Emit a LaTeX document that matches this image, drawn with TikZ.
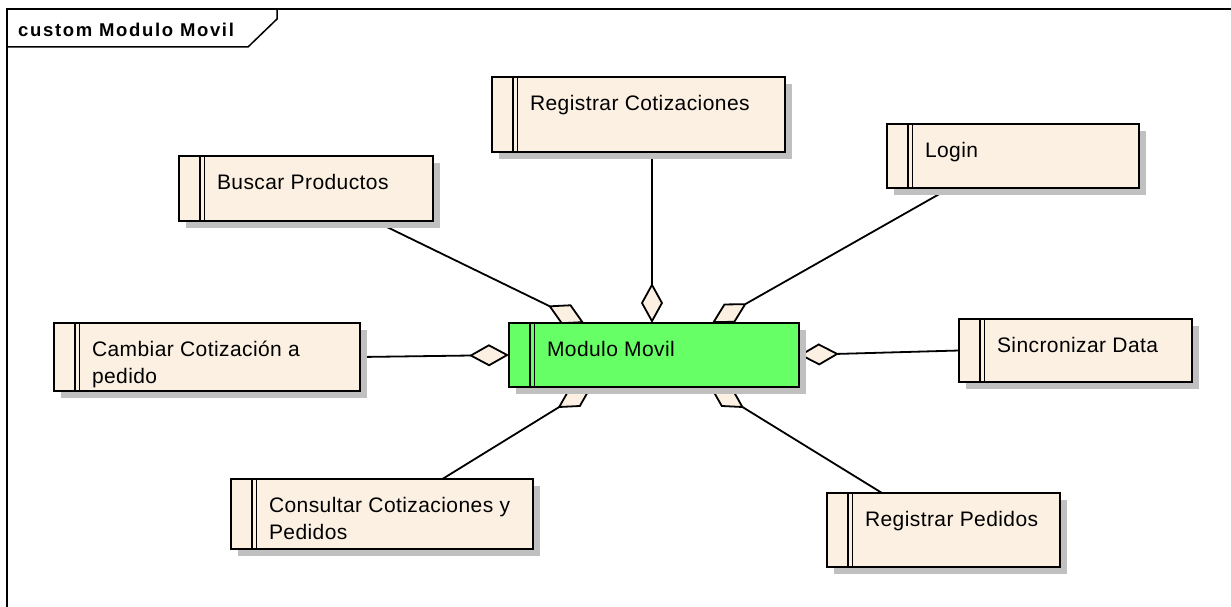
\documentclass[tikz,border=0pt]{standalone}
\usepackage{fontspec}
\setmainfont{Liberation Sans}
\usetikzlibrary{arrows.meta,calc,shadows}
\definecolor{cream}{RGB}{251,240,226}
\definecolor{boxgreen}{RGB}{102,255,102}
\definecolor{shade}{RGB}{192,192,192}
\pgfdeclarelayer{bg}
\pgfsetlayers{bg,main}
\newcommand\uctext[3]{\parbox[t][#2pt][t]{#1pt}{\raggedright\leftskip=38pt\relax\rule{0pt}{33.5pt}#3}}
\tikzset{
  ubox/.style={draw, line width=1.9pt, inner sep=0pt, outer sep=0pt, anchor=north west,
    font=\fontsize{21}{27}\selectfont\addfontfeature{LetterSpace=2},
    drop shadow={shadow xshift=7pt, shadow yshift=-7pt, fill=shade, opacity=1}},
  agg/.style={line width=1.8pt, -{Diamond[length=40pt,width=22pt,fill=cream,line width=1.8pt]}},
  bar/.style={line width=1.5pt},
  frame/.style={line width=1.5pt}
}
\begin{document}
\begin{tikzpicture}[x=1pt,y=-1pt]
\useasboundingbox (0,0) rectangle (1231,607);
% frame
\draw[frame] (7,607) -- (7,9) -- (1231,9);
\draw[frame] (7,47) -- (248,47) -- (277,19) -- (277,9);
\node[anchor=base west, inner sep=0pt, font=\bfseries\fontsize{18.5}{22}\selectfont\addfontfeature{LetterSpace=9}] (title) at (18,36.5) {custom Modulo Movil};
% boxes
\node[ubox, fill=cream] (rc) at (492,77) {\uctext{293}{75}{Registrar Cotizaciones}};
\node[ubox, fill=cream] (lg) at (887,124) {\uctext{252}{64}{Login}};
\node[ubox, fill=cream] (bp) at (179,156) {\uctext{254}{65}{Buscar Productos}};
\node[ubox, fill=cream] (cc) at (54,323) {\uctext{306}{68}{Cambiar Cotización a\\pedido}};
\node[ubox, fill=boxgreen] (mm) at (509,323) {\uctext{290}{64}{Modulo Movil}};
\node[ubox, fill=cream] (sd) at (959,319) {\uctext{233}{63}{Sincronizar Data}};
\node[ubox, fill=cream] (cq) at (231,479) {\uctext{302}{70}{Consultar Cotizaciones y\\Pedidos}};
\node[ubox, fill=cream] (rp) at (827,493) {\uctext{233}{74}{Registrar Pedidos}};
\foreach \n in {rc,lg,bp,cc,mm,sd,cq,rp}{
  \draw[bar] ([xshift=21pt]\n.north west) -- ([xshift=21pt]\n.south west);
  \draw[bar] ([xshift=25.5pt]\n.north west) -- ([xshift=25.5pt]\n.south west);
}
% connectors
\begin{pgfonlayer}{bg}
\draw[agg] ($(bp.south west)!0.77!(bp.south east)$) -- ($(mm.north west)!0.259!(mm.north east)$);
\coordinate (t2) at ($(mm.north west)!0.493!(mm.north east)$);
\draw[agg] (t2 |- rc.south) -- (t2);
\draw[agg] ($(lg.south west)!0.25!(lg.south east)$) -- ($(mm.north west)!0.70!(mm.north east)$);
\draw[agg] (cc.east) -- (mm.west);
\draw[agg] (sd.west) -- (mm.east);
\draw[agg] ($(cq.north west)!0.70!(cq.north east)$) -- ($(mm.south west)!0.285!(mm.south east)$);
\draw[agg] ($(rp.north west)!0.236!(rp.north east)$) -- ($(mm.south west)!0.693!(mm.south east)$);
\end{pgfonlayer}
\end{tikzpicture}
\end{document}
